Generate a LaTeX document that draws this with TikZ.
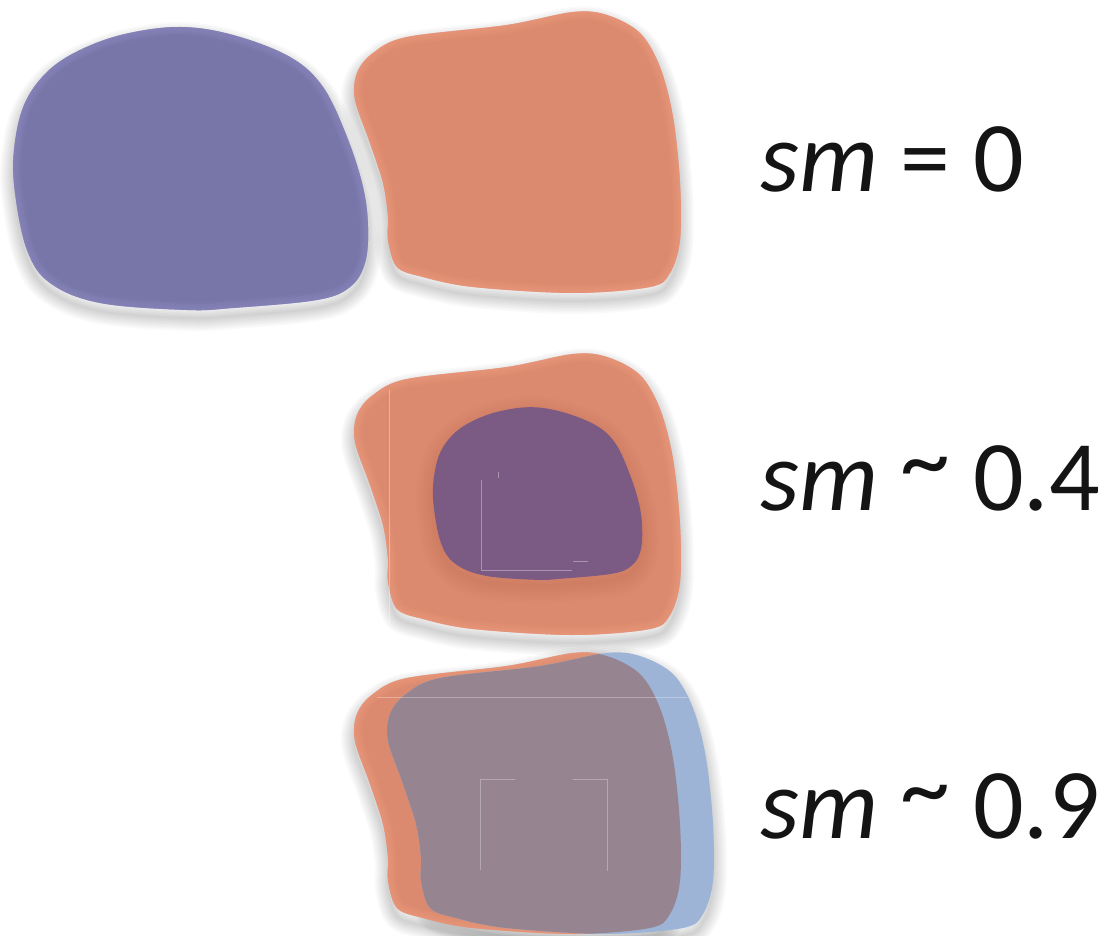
\documentclass[tikz,border=0pt]{standalone}
\usepackage{fontspec}
\setmainfont{Carlito}
\definecolor{cblue}{HTML}{7876A8}
\definecolor{cblueedge}{HTML}{8A88C0}
\definecolor{corange}{HTML}{DB8A6F}
\definecolor{corangeedge}{HTML}{EE9A7D}
\definecolor{cpurple}{HTML}{7B5A83}
\definecolor{clightblue}{HTML}{9DB4D6}
\definecolor{cmauve}{HTML}{968590}
\newcommand\bluepath{plot[smooth cycle, tension=0.6] coordinates {(180,27) (233,35) (290,57) (323,87) (347,137) (363,187) (368,227) (365,263) (350,287) (317,300) (233,308) (187,310) (100,303) (50,283) (27,250) (15,193) (14,150) (24,105) (47,72) (80,50) (125,34)}}
\newcommand\orangepath{plot[smooth cycle, tension=0.55] coordinates {(507,25) (573,12) (607,15) (640,33) (660,67) (673,117) (680,183) (680,240) (670,273) (650,287) (573,293) (473,287) (423,277) (397,267) (388,240) (388,217) (383,183) (370,143) (355,100) (357,73) (373,53) (407,37)}}
\newcommand\softshadow[1]{%
  \begin{scope}[yshift=-8pt]
    \foreach \w in {2,5,...,26} {\draw[line width=\w pt, black, opacity=0.018, line join=round] #1;}
  \end{scope}}
\newcommand\inneredge[2]{%
  \begin{scope}
    \clip #1;
    \foreach \w in {4,8,12,16} {\draw[line width=\w pt, #2, opacity=0.2] #1;}
  \end{scope}}
\tikzset{lbl/.style={anchor=base west, inner sep=0pt, font=\fontsize{100}{120}\selectfont, text=black!92}}
\newcommand\tld{\raisebox{0.17em}{\textasciitilde}}
\begin{document}
\begin{tikzpicture}[x=1pt, y=-1pt]
\useasboundingbox (0,0) rectangle (1114,936);
\fill[white] (0,0) rectangle (1114,936);
% ---------- row 1 ----------
\softshadow{\bluepath}
\fill[cblue] \bluepath;
\inneredge{\bluepath}{cblueedge}
\softshadow{\orangepath}
\fill[corange] \orangepath;
\inneredge{\orangepath}{corangeedge}
% ---------- row 2 ----------
\begin{scope}[yshift=-342pt]
  \softshadow{\orangepath}
  \fill[corange] \orangepath;
  \inneredge{\orangepath}{corangeedge}
\end{scope}
\begin{scope}[shift={(537.5,493.5)}, xscale=0.59, yscale=0.61, shift={(-190.5,-168.5)}]
  \begin{scope}[yshift=-10pt]
    \foreach \w in {4,10,...,34} {\draw[line width=\w pt, black!70!red, opacity=0.012, line join=round] \bluepath;}
  \end{scope}
  \fill[cpurple] \bluepath;
\end{scope}
\begin{scope}[line width=0.8pt, white, opacity=0.35]
  \draw (389,390) -- (389,623);
  \draw (481,480) -- (481,570) -- (572,570);
  \draw (498,472) -- (498,478);
  \draw (573,561) -- (588,561);
\end{scope}
% ---------- row 3 ----------
\begin{scope}[yshift=-641pt]
  \softshadow{\orangepath}
  \begin{scope}[xshift=33pt]\softshadow{\orangepath}\end{scope}
  \fill[corange] \orangepath;
  \inneredge{\orangepath}{corangeedge}
  \begin{scope}[xshift=33pt]
    \fill[clightblue] \orangepath;
  \end{scope}
  \begin{scope}[xshift=33pt]\clip \orangepath;
    \begin{scope}[xshift=-33pt]\fill[cmauve] \orangepath;\end{scope}
  \end{scope}
\end{scope}
\begin{scope}[line width=0.8pt, white, opacity=0.3]
  \draw (377,697) -- (687,697);
  \draw (515,779) -- (480,779) -- (480,870);
  \draw (573,779) -- (607,779) -- (607,871);
\end{scope}
% ---------- labels ----------
\node[lbl] (l0) at (760,192) {\textit{sm} = 0};
\node[lbl] (l1) at (760,510) {\textit{sm} \tld{} 0.4};
\node[lbl] (l2) at (760,838) {\textit{sm} \tld{} 0.9};
\end{tikzpicture}
\end{document}
